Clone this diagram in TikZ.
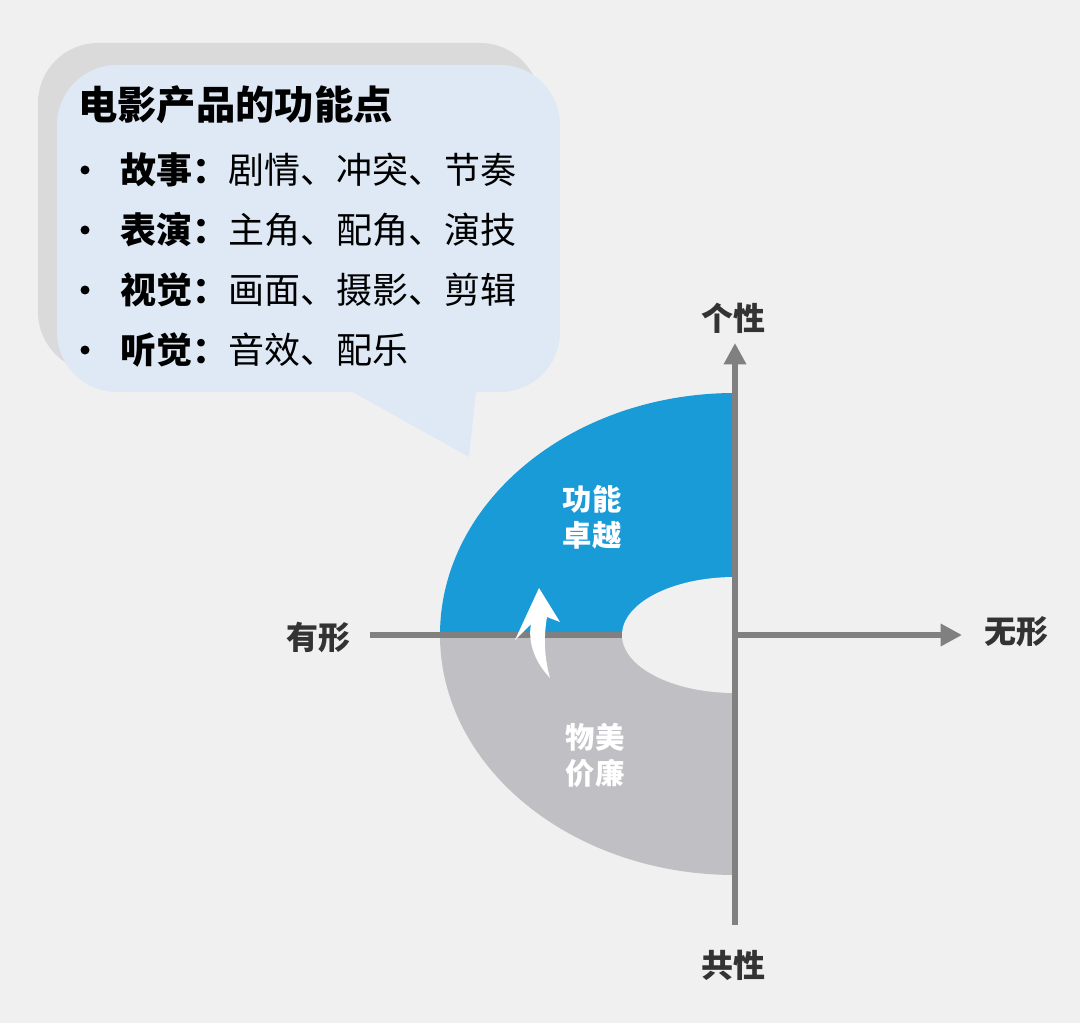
\documentclass[tikz,border=0pt]{standalone}
\usepackage{fontspec}
\setmainfont{Noto Sans CJK SC}
\usetikzlibrary{arrows.meta}
\definecolor{bg}{HTML}{F0F0F0}
\definecolor{blu}{HTML}{189BD7}
\definecolor{gry}{HTML}{C0BFC3}
\definecolor{axc}{HTML}{808080}
\definecolor{callb}{HTML}{DEE9F5}
\definecolor{shad}{HTML}{DADADA}
\tikzset{
 axis/.style={draw=axc,line width=4.5pt,-{Triangle[length=16pt,width=16pt]}},
 axlab/.style={font=\fontsize{24}{28}\selectfont\bfseries,text=black!80},
 inlab/.style={font=\fontsize{22}{27}\selectfont\bfseries,text=white,align=center},
 item/.style={font=\fontsize{27}{32}\selectfont,anchor=west,inner sep=0pt}
}
\begin{document}
\begin{tikzpicture}[x=0.75pt,y=-0.75pt]
\fill[bg] (0,0) rectangle (1080,1023);
\useasboundingbox (0,0) rectangle (1080,1023);
% callout
\fill[shad,rounded corners=45] (38,43) rectangle (540,372);
\fill[callb,rounded corners=45] (57,65) rectangle (560,392);
\fill[callb] (351,391) -- (469,457) -- (476,391) -- cycle;
\node[item,font=\fontsize{29.5}{34}\selectfont\bfseries] (title) at (78,105) {电影产品的功能点};
\foreach \y/\a/\b [count=\i] in {170/故事/剧情、冲突、节奏,230/表演/主角、配角、演技,290/视觉/画面、摄影、剪辑,350/听觉/音效、配乐}{
 \fill (85,\y) circle[radius=4.5];
 \node[item] (lab\i) at (120,\y) {\textbf{\a：}\b};
}
% horizontal axis
\coordinate (hl) at (370,635);
\coordinate (hr) at (962,635);
\draw[axis] (hl) -- (hr);
% donut
\fill[blu] (735,635) -- (440,635) arc[start angle=180,end angle=270,x radius=295,y radius=242] -- cycle;
\fill[gry] (735,635) -- (440,635) arc[start angle=180,end angle=90,x radius=295,y radius=240] -- cycle;
\begin{scope}
\clip (600,560) rectangle (735,710);
\fill[bg] (735,635) ellipse[x radius=113,y radius=58];
\end{scope}
\draw[axc,line width=4.5pt] (440,635) -- (622,635);
% vertical axis
\coordinate (vb) at (735,925);
\coordinate (vt) at (735,343);
\draw[axis] (vb) -- (vt);
% arrow
\fill[white] (539,588) -- (560,622) -- (547,617) .. controls (543,640) and (545,660) .. (550,678)
 .. controls (533,660) and (528,640) .. (531,624) -- (515,640) -- cycle;
\node[inlab] (t1) at (592,517) {功能\\卓越};
\node[inlab] (t2) at (595,755) {物美\\价廉};
\node[axlab] (ax1) at (733,318) {个性};
\node[axlab] (ax2) at (1016,632) {无形};
\node[axlab] (ax3) at (318,637) {有形};
\node[axlab] (ax4) at (733,965) {共性};
\end{tikzpicture}
\end{document}
